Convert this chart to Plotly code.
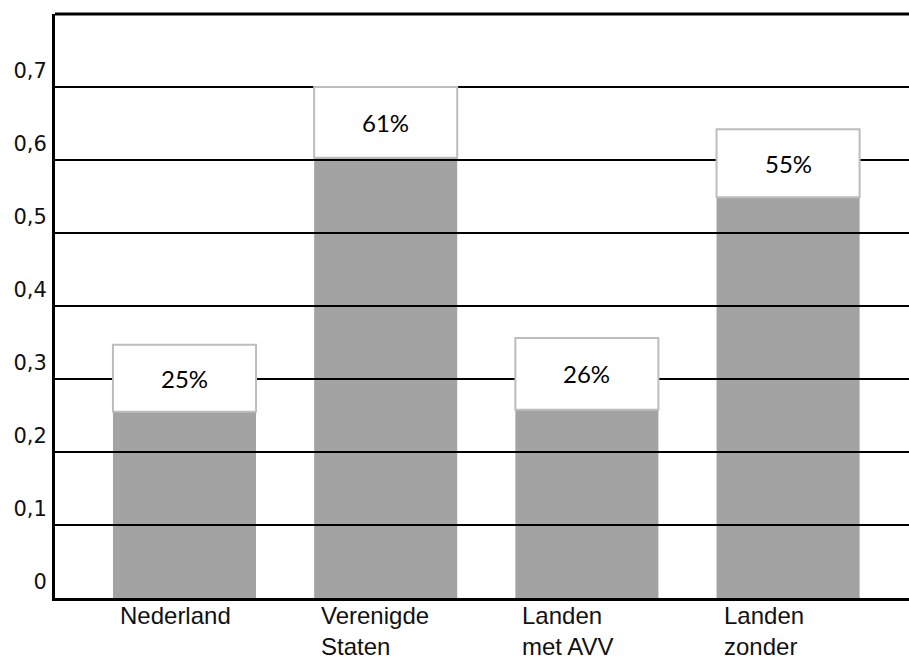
import plotly.graph_objects as go

categories = ["Nederland", "Verenigde Staten", "Landen met AVV", "Landen zonder"]
cat_labels = ["Nederland", "Verenigde<br>Staten", "Landen<br>met AVV", "Landen<br>zonder"]
values = [0.255, 0.603, 0.258, 0.549]
pct_labels = ["25%", "61%", "26%", "55%"]
box_heights = [0.092, 0.097, 0.098, 0.093]
y_tickvals = [0, 0.1, 0.2, 0.3, 0.4, 0.5, 0.6, 0.7]
y_ticktext = ["0", "0,1", "0,2", "0,3", "0,4", "0,5", "0,6", "0,7"]

BAR_W = 0.711
xs = list(range(len(categories)))

fig = go.Figure()
fig.add_trace(go.Bar(
    x=xs, y=values, width=BAR_W,
    marker=dict(color="#a3a3a3", line=dict(width=0)),
    hoverinfo="skip", showlegend=False,
))

shapes = []
for v in y_tickvals[1:]:
    shapes.append(dict(type="line", xref="paper", yref="y", x0=0, x1=1, y0=v, y1=v,
                       line=dict(color="#000000", width=2)))
for i, (v, h) in enumerate(zip(values, box_heights)):
    shapes.append(dict(type="rect", xref="x", yref="y",
                       x0=i - BAR_W / 2, x1=i + BAR_W / 2, y0=v, y1=v + h,
                       fillcolor="#ffffff", line=dict(color="#bdbdbd", width=2)))
# top border
shapes.append(dict(type="line", xref="paper", yref="paper", x0=0, x1=1.01, y0=1, y1=1,
                   line=dict(color="#000000", width=3)))

annotations = []
for i, (v, h, t) in enumerate(zip(values, box_heights, pct_labels)):
    annotations.append(dict(x=i, y=v + h / 2, xref="x", yref="y", text=t, showarrow=False,
                            font=dict(family="Lato", size=24, color="#000000"),
                            xanchor="center", yanchor="middle"))
for i, t in enumerate(cat_labels):
    annotations.append(dict(x=i - BAR_W / 2, y=0, xref="x", yref="paper", text=t,
                            showarrow=False, xanchor="left", yanchor="top", align="left",
                            xshift=5, yshift=-2,
                            font=dict(family="Liberation Sans", size=24, color="#111111")))

fig.update_layout(
    width=909, height=659,
    margin=dict(l=55, r=0, t=14, b=61, pad=0),
    paper_bgcolor="#ffffff", plot_bgcolor="#ffffff",
    shapes=shapes, annotations=annotations,
    showlegend=False,
    xaxis=dict(range=[-0.6436, 3.601], showgrid=False, zeroline=False,
               showline=True, linecolor="#000000", linewidth=3,
               showticklabels=False, ticks="", fixedrange=True),
    yaxis=dict(range=[0, 0.8], showgrid=False, zeroline=False,
               showline=True, linecolor="#000000", linewidth=3,
               tickvals=y_tickvals, ticktext=y_ticktext, ticks="",
               ticklabelshift=-16, ticklabelstandoff=1,
               tickfont=dict(family="DejaVu Sans", size=21, color="#111111"),
               fixedrange=True),
)

fig.write_html("out.html")
